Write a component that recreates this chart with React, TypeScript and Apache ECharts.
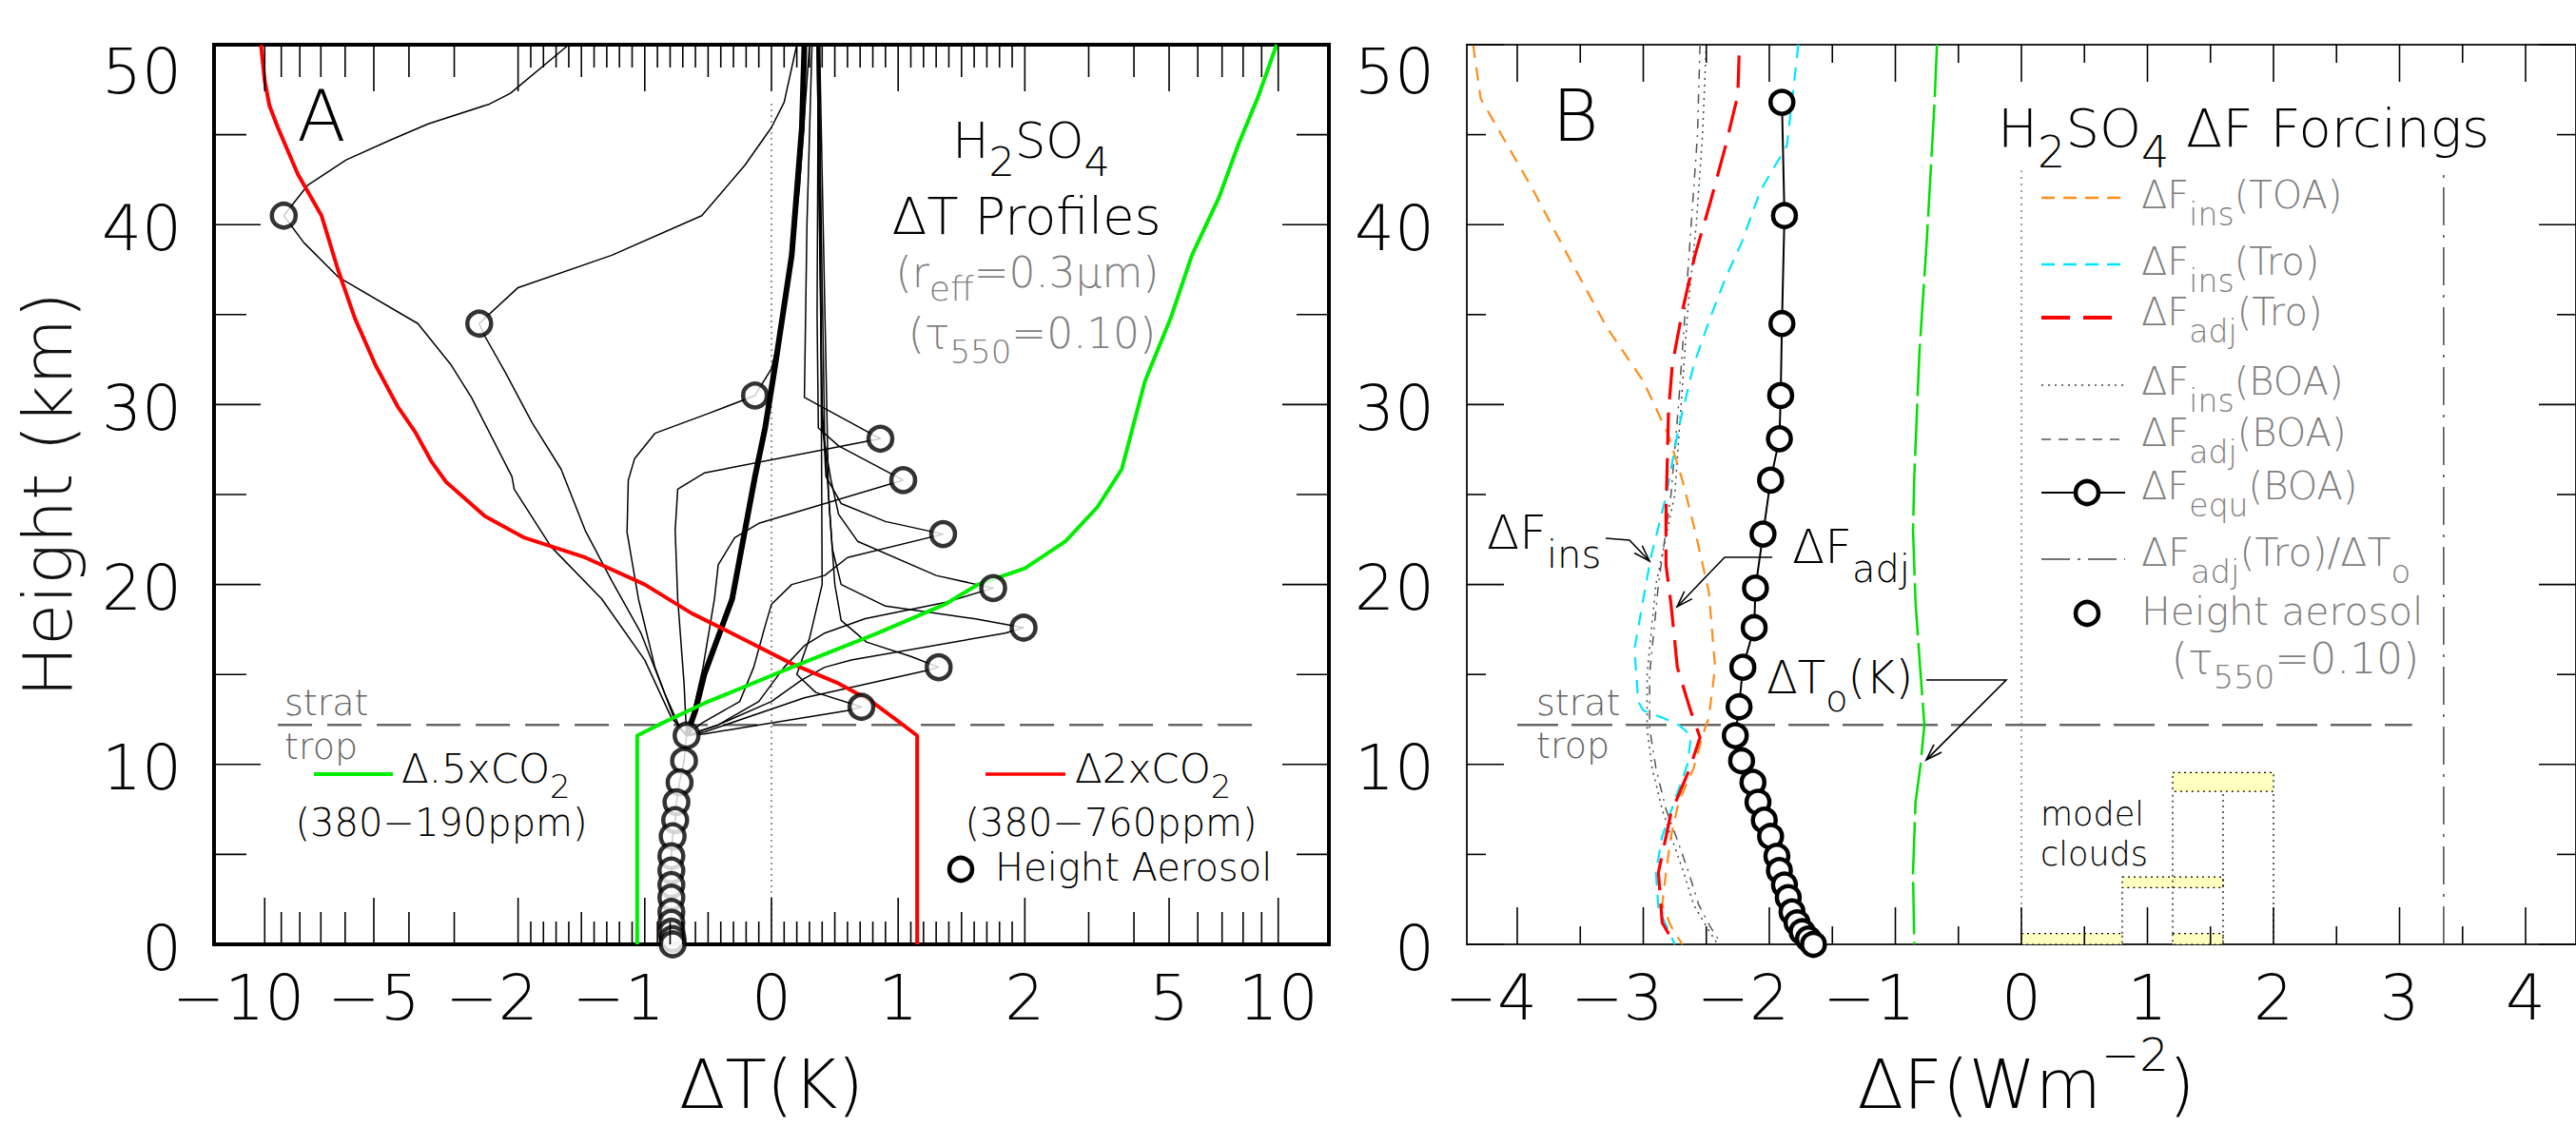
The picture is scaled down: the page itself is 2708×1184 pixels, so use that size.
import React, { useEffect, useRef } from "react";
import * as echarts from "echarts";

const W = 2708;
const H = 1184;
const FONT = "'DejaVu Sans ExtraLight', 'DejaVu Sans', 'Liberation Sans', sans-serif";
const TW = 200;
const TICK_FS = 66;

// ---------- Panel A scale: linear in [-2,2], logarithmic beyond ----------
const LOGK = 2 / Math.log(5);
function fA(x: number) {
  const a = Math.abs(x);
  return a <= 2 ? x : Math.sign(x) * (2 + LOGK * Math.log(a / 2));
}

// ---------- tick values / labels ----------
const A_X_MAJOR = [-10, -5, -2, -1, 0, 1, 2, 5, 10];
const A_X_LABELS = ["−10", "−5", "−2", "−1", "0", "1", "2", "5", "10"];
const A_X_LABEL_WHOLE = [false, true, false, false, false, false, false, false, false];
const A_X_MEDIUM = [-9, -8, -7, -6, -4, -3, -1.5, -0.5, 0.5, 1.5, 3, 4, 6, 7, 8, 9];
const B_X_MAJOR = [-4, -3, -2, -1, 0, 1, 2, 3, 4];
const B_X_LABELS = ["−4", "−3", "−2", "−1", "0", "1", "2", "3", "4"];
const B_X_LABEL_WHOLE = [false, false, false, false, false, false, false, false, false];
const B_X_MINOR = [-3.5, -2.5, -1.5, -0.5, 0.5, 1.5, 2.5, 3.5];
const Y_MAJOR = [0, 10, 20, 30, 40, 50];
const Y_LABELS = ["0", "10", "20", "30", "40", "50"];
const Y_MINOR = [5, 15, 25, 35, 45];

// ---------- aerosol heights (km) ----------
const AEROSOL_KM = [46.8, 40.5, 34.5, 30.5, 28.1, 25.8, 22.8, 19.8, 17.6, 15.4, 13.2, 11.6, 10.2, 9.0, 7.9, 6.9, 6.0, 4.9, 4.1, 3.3, 2.6, 1.8, 1.2, 0.7, 0.3, 0.0];
// Panel A: dT at aerosol height (for AEROSOL_KM[1..])
const A_CIRCLE_DT = [-8.86, -2.56, -0.13, 0.86, 1.04, 1.355, 1.75, 1.99, 1.32, 0.71, -0.67, -0.69, -0.725, -0.75, -0.76, -0.78, -0.79, -0.79, -0.79, -0.79, -0.79, -0.79, -0.79, -0.78, -0.78];
// Panel B: dF_equ(BOA)
const B_EQU_DF = [-1.9, -1.88, -1.9, -1.91, -1.92, -1.99, -2.05, -2.11, -2.12, -2.21, -2.24, -2.27, -2.22, -2.13, -2.09, -2.04, -1.99, -1.94, -1.92, -1.88, -1.85, -1.82, -1.78, -1.74, -1.69, -1.65];

// ---------- Panel A profiles [dT, km] ----------
const P40 = [[-1.6, 50], [-2.1, 47.3], [-2.4, 46.7], [-3.54, 45.6], [-4.5, 44.7], [-5.96, 43.6], [-7.6, 42.2], [-8.86, 40.5], [-7.8, 39], [-6.28, 37.1], [-3.78, 34.5], [-3.06, 32.2], [-2.69, 30.4], [-2.08, 26], [-2.05, 25.3], [-1.74, 22.1], [-1.34, 19.2], [-1.0, 15.8], [-0.79, 12.6], [-0.67, 11.6]];
const P34 = [[0.2, 50], [0.1, 46.8], [0.0, 45.4], [-0.21, 43.3], [-0.55, 40.5], [-1.26, 38.3], [-2.0, 36.5], [-2.56, 34.5], [-2.47, 33.8], [-2.17, 31.8], [-1.89, 29], [-1.66, 26.4], [-1.47, 23], [-1.26, 20.2], [-1.03, 17.3], [-0.84, 13.9], [-0.72, 12], [-0.67, 11.6]];
const P30 = [[0.3, 50], [0.22, 42], [0.1, 35], [0.0, 32], [-0.13, 30.5], [-0.5, 29.5], [-0.92, 28.4], [-1.08, 27], [-1.13, 25.8], [-1.14, 22.9], [-1.05, 19.2], [-0.92, 15.4], [-0.76, 12.4], [-0.67, 11.6]];
const P28 = [[0.32, 50], [0.28, 40], [0.26, 30.4], [0.86, 28.1], [-0.53, 26.2], [-0.74, 25.3], [-0.76, 23], [-0.74, 19.2], [-0.69, 14.5], [-0.67, 11.6]];
const P25 = [[0.37, 50], [0.36, 35], [0.37, 28.7], [0.53, 27.7], [1.04, 25.8], [-0.1, 23.4], [-0.29, 22.6], [-0.42, 21.1], [-0.45, 19.2], [-0.54, 15.4], [-0.63, 12.6], [-0.67, 11.6]];
const P22 = [[0.36, 50], [0.4, 30], [0.43, 26], [0.55, 24.5], [0.9, 23.5], [1.355, 22.8], [0.6, 21.5], [0.42, 20.5], [0.16, 20], [0.0, 18.9], [-0.05, 17.7], [-0.14, 15.4], [-0.25, 13.5], [-0.55, 12.3], [-0.67, 11.6]];
const P19 = [[0.36, 50], [0.4, 28.7], [0.47, 25.8], [0.53, 23.9], [0.68, 22.4], [1.3, 20.5], [1.75, 19.8], [1.37, 19.0], [0.74, 18.1], [0.42, 17.3], [0.26, 16.6], [0.1, 15.4], [-0.1, 13.5], [-0.42, 12.2], [-0.67, 11.6]];
const P17 = [[0.37, 50], [0.42, 28], [0.48, 22], [0.55, 20], [0.9, 18.8], [1.6, 18.1], [1.99, 17.6], [1.845, 17.3], [0.63, 15.8], [0.42, 15.4], [0.24, 14.7], [0.0, 13.5], [-0.42, 12.2], [-0.67, 11.6]];
const P15 = [[0.38, 50], [0.45, 25], [0.5, 20], [0.55, 18], [0.75, 16.8], [1.1, 16], [1.32, 15.4], [1.21, 15.2], [0.26, 13.7], [-0.53, 11.8], [-0.67, 11.6]];
const P13 = [[0.38, 50], [0.4, 20], [0.3, 17], [0.2, 15], [0.35, 14], [0.71, 13.2], [0.61, 13.0], [-0.53, 11.7], [-0.67, 11.6]];
const A_PROFILES = [P40, P34, P30, P28, P25, P22, P19, P17, P15, P13];
const A_BUNDLE = [[-0.67, 11.6], [-0.6, 13], [-0.53, 15], [-0.31, 19.2], [-0.13, 26], [-0.05, 28.7], [0.03, 32.2], [0.16, 38.3], [0.24, 45.4], [0.26, 50]];
const A_TROPO = [[-0.67, 11.6], [-0.69, 10.2], [-0.725, 9.0], [-0.75, 7.9], [-0.76, 6.9], [-0.78, 6.0], [-0.79, 4.9], [-0.79, 0.7], [-0.78, 0]];
const A_RED_2XCO2 = [[1.15, 0], [1.15, 11.6], [1.0, 12.4], [0.79, 13.5], [0.53, 14.5], [0.16, 15.6], [-0.26, 17.1], [-0.63, 18.4], [-1.0, 20], [-1.47, 21.5], [-1.95, 22.6], [-2.47, 23.8], [-3.16, 25.7], [-3.46, 26.8], [-3.85, 28.5], [-4.3, 29.9], [-4.95, 32.2], [-5.64, 34.8], [-6.28, 37.5], [-6.97, 40.5], [-8.1, 42.8], [-9.2, 45.4], [-9.7, 46.6], [-10.0, 48], [-10.24, 50]];
const A_GREEN_HALFCO2 = [[-1.06, 0], [-1.06, 11.6], [-0.89, 12.2], [-0.53, 13.4], [0.16, 15.4], [0.84, 17.3], [1.37, 18.9], [1.63, 20], [2.0, 20.9], [2.59, 22.4], [3.17, 24.3], [3.7, 26.4], [4.29, 31.3], [5.05, 34.8], [5.78, 38.3], [6.86, 41.5], [7.78, 44.5], [8.8, 47.1], [9.9, 50]];
const A_ZERO = [[0, 0], [0, 46.8]];
const TROPOPAUSE_KM = 12.2;
const A_TROP_LINE = [[-9.2, TROPOPAUSE_KM], [9.2, TROPOPAUSE_KM]];

// ---------- Panel B forcings [dF, km] ----------
const B_INS_TOA = [[-4.35, 50], [-4.29, 47], [-3.88, 42], [-3.6, 38.3], [-3.29, 34.3], [-3.0, 31.3], [-2.8, 28.3], [-2.69, 25.8], [-2.59, 23], [-2.48, 19.6], [-2.43, 15.4], [-2.48, 12.6], [-2.53, 11.6], [-2.6, 9.8], [-2.72, 7.9], [-2.78, 6], [-2.82, 4], [-2.85, 2.2], [-2.78, 1], [-2.69, 0]];
const B_INS_TRO = [[-1.77, 50], [-1.86, 44.4], [-2.07, 41.9], [-2.22, 39], [-2.35, 37], [-2.47, 34.8], [-2.6, 32.2], [-2.72, 28.7], [-2.82, 24.9], [-2.94, 21.5], [-3.0, 19.2], [-3.07, 16.4], [-3.04, 13.5], [-3.0, 13.0], [-2.85, 12.6], [-2.72, 12.2], [-2.62, 11.6], [-2.65, 10], [-2.75, 8], [-2.85, 6], [-2.9, 4], [-2.88, 2], [-2.75, 0]];
const B_ADJ_TRO = [[-2.24, 49.4], [-2.25, 47.2], [-2.35, 44.3], [-2.47, 41.2], [-2.59, 38.3], [-2.69, 35.2], [-2.77, 32.2], [-2.8, 29.6], [-2.82, 23.9], [-2.82, 21.1], [-2.78, 18.9], [-2.73, 15.4], [-2.63, 13.1], [-2.55, 11.5], [-2.63, 9.8], [-2.78, 7.3], [-2.88, 4], [-2.85, 1.2], [-2.75, 0]];
const B_INS_BOA = [[-2.5, 50], [-2.53, 45], [-2.58, 40], [-2.65, 35], [-2.7, 30], [-2.75, 25], [-2.9, 20], [-2.97, 15], [-2.97, 12], [-2.93, 9.8], [-2.85, 7.5], [-2.78, 6], [-2.68, 4], [-2.6, 2.2], [-2.5, 1], [-2.41, 0]];
const B_ADJ_BOA = [[-2.55, 50], [-2.57, 45], [-2.62, 40], [-2.67, 35], [-2.72, 30], [-2.78, 25], [-2.88, 20], [-2.95, 15], [-2.95, 12], [-2.9, 9.8], [-2.82, 7.5], [-2.74, 6], [-2.64, 4], [-2.56, 2.2], [-2.47, 1], [-2.38, 0]];
const B_RATIO = [[3.35, 0], [3.35, 43]];
const B_DT0 = [[-0.67, 50], [-0.69, 46.7], [-0.75, 39.2], [-0.81, 32.8], [-0.85, 26], [-0.86, 23], [-0.84, 19], [-0.81, 16], [-0.77, 12.2], [-0.8, 10], [-0.84, 7.9], [-0.86, 4], [-0.85, 0]];
const B_ZERO = [[0, 0], [0, 43]];
const B_TROP_LINE = [[-4.0, TROPOPAUSE_KM], [3.1, TROPOPAUSE_KM]];
// model clouds [x0, x1, km0, km1]
const CLOUDS = [[0, 0.8, 0, 0.6], [0.8, 1.6, 3.15, 3.75], [1.2, 2.0, 8.5, 9.55], [1.2, 1.6, 0, 0.6]];
const CLOUD_EDGES = [[0.8, 0.6, 3.15], [1.2, 0.6, 8.5], [1.6, 0, 8.5], [2.0, 0, 8.5]];

// ---------- helpers ----------
type Tick = { axis: "x" | "y"; v: number; len: number; label?: string; whole?: boolean };

function buildTicks(xMajor: number[], xLabels: string[], xWhole: boolean[], xMed: number[], xSmall: number[], lens: number[], yLens: number[]): Tick[] {
  const t: Tick[] = [];
  xMajor.forEach((v, i) => t.push({ axis: "x", v, len: lens[0], label: xLabels[i], whole: xWhole[i] }));
  xMed.forEach((v) => t.push({ axis: "x", v, len: lens[1] }));
  xSmall.forEach((v) => t.push({ axis: "x", v, len: lens[2] }));
  Y_MAJOR.forEach((v, i) => t.push({ axis: "y", v, len: yLens[0], label: Y_LABELS[i] }));
  Y_MINOR.forEach((v) => t.push({ axis: "y", v, len: yLens[1] }));
  return t;
}

function smallTicksA() {
  const out: number[] = [];
  for (let i = -19; i <= 19; i++) {
    if (i % 5 === 0) continue;
    out.push(i / 10);
  }
  return out;
}

function tickSeries(gi: number, ticks: Tick[], map: (v: number) => number, color: string, lw: number) {
  return {
    type: "custom",
    xAxisIndex: gi,
    yAxisIndex: gi,
    silent: true,
    clip: false,
    z: 20,
    data: ticks.map(() => [0, 25]),
    renderItem: (params: any, api: any) => {
      const t = ticks[params.dataIndex];
      const ch: any[] = [];
      const ls = { stroke: color, lineWidth: lw };
      if (t.axis === "x") {
        const b = api.coord([map(t.v), 0]);
        const tp = api.coord([map(t.v), 50]);
        ch.push({ type: "line", shape: { x1: b[0], y1: b[1], x2: b[0], y2: b[1] - t.len }, style: ls });
        ch.push({ type: "line", shape: { x1: tp[0], y1: tp[1], x2: tp[0], y2: tp[1] + t.len }, style: ls });
        if (t.label) {
          const neg = t.label.charAt(0) === "−" && !t.whole;
          const nd = t.label.replace("−", "").length;
          const x = neg ? b[0] + (nd * 0.636 * TICK_FS) / 2 : b[0];
          const al = neg ? "right" : "center";
          ch.push({
            type: "text",
            x,
            y: b[1] + 56,
            style: { text: t.label, fill: "#000", fontSize: TICK_FS, fontFamily: FONT, fontWeight: TW, textAlign: al, align: al, textVerticalAlign: "middle", verticalAlign: "middle" },
          });
        }
      } else {
        const l = api.coord([-4.4, t.v]);
        const r = api.coord([4.4, t.v]);
        ch.push({ type: "line", shape: { x1: l[0], y1: l[1], x2: l[0] + t.len, y2: l[1] }, style: ls });
        ch.push({ type: "line", shape: { x1: r[0], y1: r[1], x2: r[0] - t.len, y2: r[1] }, style: ls });
        if (t.label) {
          const y = t.v === 50 ? l[1] + 28 : l[1] + 4;
          ch.push({
            type: "text",
            x: l[0] - 34,
            y,
            style: { text: t.label, fill: "#000", fontSize: TICK_FS, fontFamily: FONT, fontWeight: TW, textAlign: "right", align: "right", textVerticalAlign: "middle", verticalAlign: "middle" },
          });
        }
      }
      return { type: "group", children: ch };
    },
  };
}

function lineS(gi: number, data: number[][], color: string, width: number, type: any, z = 3) {
  return {
    type: "line",
    xAxisIndex: gi,
    yAxisIndex: gi,
    data: gi === 0 ? data.map(([x, k]) => [fA(x), k]) : data,
    symbol: "none",
    showSymbol: false,
    silent: true,
    z,
    lineStyle: { color, width, type, cap: "butt", join: "round" },
  };
}

function T(x: number, y: number, text: string, size: number, opt: any = {}) {
  const align = opt.align || "left";
  return {
    type: "text",
    x,
    y,
    rotation: opt.rotation || 0,
    silent: true,
    z: 50,
    style: {
      text,
      fill: opt.color || "#000",
      fontSize: size,
      fontFamily: FONT,
      fontWeight: TW,
      lineHeight: opt.lineHeight,
      textAlign: align,
      align,
      textVerticalAlign: "middle",
      verticalAlign: "middle",
      rich: opt.rich,
    },
  };
}
function sub(size: number, pad: number, color = "#000") {
  return { fontSize: size, fontFamily: FONT, fontWeight: TW, fill: color, lineHeight: Math.round(size * 0.75), padding: [pad, 0, 0, 0] };
}
function sup(size: number, pad: number, color = "#000") {
  return { fontSize: size, fontFamily: FONT, fontWeight: TW, fill: color, lineHeight: Math.round(size * 0.75), padding: [0, 0, pad, 0] };
}
function L(x1: number, y1: number, x2: number, y2: number, color: string, width: number, dash?: number[]) {
  return { type: "line", silent: true, z: 50, shape: { x1, y1, x2, y2 }, style: { stroke: color, lineWidth: width, lineDash: dash } };
}
function arrow(pts: number[][]) {
  const [x2, y2] = pts[pts.length - 1];
  const [x1, y1] = pts[pts.length - 2];
  const a = Math.atan2(y2 - y1, x2 - x1);
  const len = 18;
  const s = 0.32;
  const h1 = [x2 - len * Math.cos(a - s), y2 - len * Math.sin(a - s)];
  const h2 = [x2 - len * Math.cos(a + s), y2 - len * Math.sin(a + s)];
  return [
    { type: "polyline", silent: true, z: 50, shape: { points: pts }, style: { stroke: "#000", lineWidth: 1.6, fill: null } },
    { type: "polyline", silent: true, z: 50, shape: { points: [h1, [x2, y2], h2] }, style: { stroke: "#000", lineWidth: 1.6, fill: null } },
  ];
}

function buildOption() {
  const ticksA = buildTicks(A_X_MAJOR, A_X_LABELS, A_X_LABEL_WHOLE, A_X_MEDIUM, smallTicksA(), [49, 34, 24], [49, 34]);
  const ticksB = buildTicks(B_X_MAJOR, B_X_LABELS, B_X_LABEL_WHOLE, B_X_MINOR, [], [39, 19, 0], [39, 20]);
  const GRAY = "#7f7f7f";
  const DGRAY = "#666";
  const circleStyle = { color: "#fff", borderColor: "#000", borderWidth: 4.5 };

  const series: any[] = [];
  // Panel A
  series.push(lineS(0, A_ZERO, "#555", 1.2, [2, 4], 2));
  series.push(lineS(0, A_TROP_LINE, DGRAY, 2.5, [36, 16], 2));
  A_PROFILES.forEach((p) => series.push(lineS(0, p, "#000", 1.5, "solid", 3)));
  series.push(lineS(0, A_BUNDLE, "#000", 6, "solid", 3));
  series.push(lineS(0, A_TROPO, "#000", 1.5, "solid", 3));
  series.push(lineS(0, A_RED_2XCO2, "#ff0000", 4, "solid", 4));
  series.push(lineS(0, A_GREEN_HALFCO2, "#00ee00", 4, "solid", 4));
  series.push({
    type: "scatter",
    xAxisIndex: 0,
    yAxisIndex: 0,
    silent: true,
    clip: false,
    z: 10,
    symbol: "circle",
    symbolSize: 25,
    itemStyle: circleStyle,
    data: A_CIRCLE_DT.map((v, i) => [fA(v), AEROSOL_KM[i + 1]]),
  });
  series.push(tickSeries(0, ticksA, fA, "#000", 1.6));

  // Panel B
  series.push({
    type: "custom",
    xAxisIndex: 1,
    yAxisIndex: 1,
    silent: true,
    clip: false,
    z: 1,
    data: CLOUDS,
    renderItem: (params: any, api: any) => {
      const c = CLOUDS[params.dataIndex];
      const p0 = api.coord([c[0], c[3]]);
      const p1 = api.coord([c[1], c[2]]);
      return {
        type: "rect",
        shape: { x: p0[0], y: p0[1], width: p1[0] - p0[0], height: p1[1] - p0[1] },
        style: { fill: "#ffffc0", stroke: "#000", lineWidth: 1.2, lineDash: [2, 4] },
      };
    },
  });
  series.push({
    type: "custom",
    xAxisIndex: 1,
    yAxisIndex: 1,
    silent: true,
    clip: false,
    z: 1,
    data: CLOUD_EDGES,
    renderItem: (params: any, api: any) => {
      const c = CLOUD_EDGES[params.dataIndex];
      const p0 = api.coord([c[0], c[1]]);
      const p1 = api.coord([c[0], c[2]]);
      return { type: "line", shape: { x1: p0[0], y1: p0[1], x2: p1[0], y2: p1[1] }, style: { stroke: "#000", lineWidth: 1.2, lineDash: [2, 4] } };
    },
  });
  series.push(lineS(1, B_ZERO, "#555", 1.2, [2, 5], 2));
  series.push(lineS(1, B_RATIO, "#444", 1.5, [40, 10, 3, 10], 2));
  series.push(lineS(1, B_TROP_LINE, DGRAY, 2.5, [43, 14], 2));
  series.push(lineS(1, B_INS_BOA, "#444", 1.5, [2, 5], 3));
  series.push(lineS(1, B_ADJ_BOA, "#555", 1.5, [10, 7, 2, 7], 3));
  series.push(lineS(1, B_INS_TOA, "#ff8c1a", 2.2, [14, 10], 4));
  series.push(lineS(1, B_INS_TRO, "#00e5ff", 2.2, [14, 10], 4));
  series.push(lineS(1, B_ADJ_TRO, "#ff0000", 3.2, [34, 14], 5));
  series.push(lineS(1, B_DT0, "#00e000", 2.5, [55, 8], 4));
  series.push({
    type: "line",
    xAxisIndex: 1,
    yAxisIndex: 1,
    silent: true,
    clip: false,
    z: 10,
    symbol: "circle",
    symbolSize: 24,
    showSymbol: true,
    itemStyle: circleStyle,
    lineStyle: { color: "#000", width: 2 },
    data: B_EQU_DF.map((v, i) => [v, AEROSOL_KM[i]]),
  });
  series.push(tickSeries(1, ticksB, (v) => v, "#000", 1.6));

  const g: any[] = [];
  // Axis titles
  g.push(T(50, 520, "Height (km)", 72, { align: "center", rotation: Math.PI / 2, color: "#111" }));
  g.push(T(811, 1140, "ΔT(K)", 71, { align: "center" }));
  g.push(T(2130, 1140, "ΔF(Wm{p|−2})", 71, { align: "center", rich: { p: sup(48, 62) } }));

  // Panel A annotations
  g.push(T(338, 122, "A", 75, { align: "center" }));
  g.push(T(1084, 148, "H{s|2}SO{s|4}", 51, { align: "center", rich: { s: sub(43, 44) } }));
  g.push(T(1079, 227, "ΔT Profiles", 54, { align: "center" }));
  g.push(T(1080, 286, "(r{s|eff}=0.3μm)", 44, { align: "center", color: GRAY, rich: { s: sub(36, 34, GRAY) } }));
  g.push(T(1085, 350, "(τ{s|550}=0.10)", 44, { align: "center", color: GRAY, rich: { s: sub(34, 40, GRAY) } }));
  g.push(T(299, 739, "strat", 38, { color: DGRAY }));
  g.push(T(299, 785, "trop", 38, { color: DGRAY }));
  g.push(L(330, 814, 413, 814, "#00ee00", 4));
  g.push(T(422, 808, "Δ.5xCO{s|2}", 42, { rich: { s: sub(34, 37) } }));
  g.push(T(464, 865, "(380−190ppm)", 40, { align: "center" }));
  g.push(L(1036, 814, 1120, 814, "#ff0000", 3.5));
  g.push(T(1130, 808, "Δ2xCO{s|2}", 42, { rich: { s: sub(34, 37) } }));
  g.push(T(1168, 865, "(380−760ppm)", 40, { align: "center" }));
  g.push({ type: "circle", silent: true, z: 50, shape: { cx: 1010, cy: 914, r: 12 }, style: { fill: "#fff", stroke: "#000", lineWidth: 4.5 } });
  g.push(T(1046, 912, "Height Aerosol", 40));

  // Panel B annotations
  g.push(T(1656, 122, "B", 75, { align: "center" }));
  g.push(T(2100, 134, "H{s|2}SO{s|4} ΔF Forcings", 56, { rich: { s: sub(46, 52) } }));
  const lx1 = 2146;
  const lx2 = 2234;
  const tx = 2251;
  const ss = sub(33, 40, GRAY);
  g.push(L(lx1, 208, lx2, 208, "#ff8c1a", 2.5, [14, 9]));
  g.push(T(tx, 205, "ΔF{s|ins}(TOA)", 40, { color: GRAY, rich: { s: ss } }));
  g.push(L(lx1, 278, lx2, 278, "#00e5ff", 2.5, [14, 9]));
  g.push(T(tx, 275, "ΔF{s|ins}(Tro)", 40, { color: GRAY, rich: { s: ss } }));
  g.push(L(lx1, 334, lx2, 334, "#ff0000", 4, [30, 14]));
  g.push(T(tx, 328, "ΔF{s|adj}(Tro)", 40, { color: GRAY, rich: { s: ss } }));
  g.push(L(lx1, 405, lx2, 405, "#444", 1.5, [2, 5]));
  g.push(T(tx, 401, "ΔF{s|ins}(BOA)", 40, { color: GRAY, rich: { s: ss } }));
  g.push(L(lx1, 462, lx2, 462, "#555", 1.5, [10, 8]));
  g.push(T(tx, 455, "ΔF{s|adj}(BOA)", 40, { color: GRAY, rich: { s: ss } }));
  g.push(L(lx1, 518, lx2, 518, "#000", 2));
  g.push({ type: "circle", silent: true, z: 51, shape: { cx: 2194, cy: 518, r: 12 }, style: { fill: "#fff", stroke: "#000", lineWidth: 4.5 } });
  g.push(T(tx, 511, "ΔF{s|equ}(BOA)", 40, { color: GRAY, rich: { s: ss } }));
  g.push(L(lx1, 588, lx2, 588, "#444", 1.5, [30, 8, 3, 8]));
  g.push(T(tx, 581, "ΔF{s|adj}(Tro)/ΔT{s|o}", 41, { color: GRAY, rich: { s: sub(34, 40, GRAY) } }));
  g.push({ type: "circle", silent: true, z: 50, shape: { cx: 2194, cy: 645, r: 12 }, style: { fill: "#fff", stroke: "#000", lineWidth: 4.5 } });
  g.push(T(tx, 643, "Height aerosol", 41, { color: GRAY }));
  g.push(T(2413, 692, "(τ{s|550}=0.10)", 44, { align: "center", color: GRAY, rich: { s: sub(34, 40, GRAY) } }));

  g.push(T(1563, 560, "ΔF{s|ins}", 50, { rich: { s: sub(40, 46) } }));
  g.push(...arrow([[1688, 566], [1713, 568], [1734, 590]]));
  g.push(T(1884, 575, "ΔF{s|adj}", 50, { rich: { s: sub(40, 46) } }));
  g.push(...arrow([[1863, 586], [1813, 586], [1763, 638]]));
  g.push(T(1857, 712, "ΔT{s|o}(K)", 48, { rich: { s: sub(38, 46) } }));
  g.push(...arrow([[2025, 715], [2109, 715], [2025, 799]]));
  g.push(T(1615, 739, "strat", 38, { color: DGRAY }));
  g.push(T(1615, 784, "trop", 38, { color: DGRAY }));
  g.push(T(2145, 856, "model", 35));
  g.push(T(2145, 898, "clouds", 35));

  return {
    animation: false,
    backgroundColor: "#fff",
    grid: [
      { left: 225, top: 47, width: 1172, height: 946, show: true, borderColor: "#000", borderWidth: 4, backgroundColor: "transparent" },
      { left: 1542, top: 47, width: 1174, height: 946, show: true, borderColor: "#222", borderWidth: 2, backgroundColor: "transparent" },
    ],
    xAxis: [
      { gridIndex: 0, type: "value", min: -4.4, max: 4.4, show: false },
      { gridIndex: 1, type: "value", min: -4.4, max: 4.4, show: false },
    ],
    yAxis: [
      { gridIndex: 0, type: "value", min: 0, max: 50, show: false },
      { gridIndex: 1, type: "value", min: 0, max: 50, show: false },
    ],
    series,
    graphic: { elements: g },
  };
}

export default function App() {
  const ref = useRef<HTMLDivElement>(null);
  useEffect(() => {
    const chart = echarts.init(ref.current!, undefined, { renderer: "svg", width: W, height: H });
    chart.setOption(buildOption() as any);
    return () => chart.dispose();
  }, []);
  return <div ref={ref} style={{ position: "absolute", left: 0, top: 0, width: W, height: H, background: "#fff" }} />;
}
